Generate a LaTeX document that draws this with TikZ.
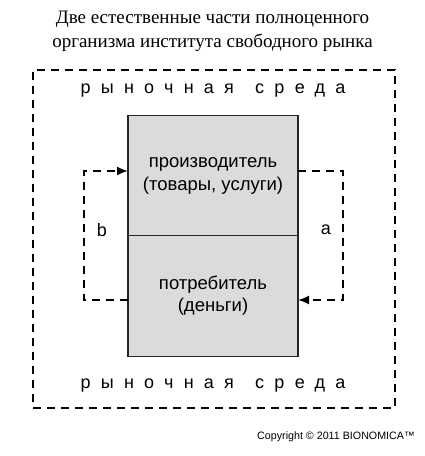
\documentclass[tikz,border=0pt]{standalone}
\usepackage{fontspec}
\setmainfont{Liberation Serif}
\setsansfont{Liberation Sans}
\newfontfamily\spacedfont[LetterSpace=57]{Liberation Sans}
\usetikzlibrary{arrows.meta, positioning}

\begin{document}
\begin{tikzpicture}[
    x=1pt, y=1pt,
    part/.style={rectangle, draw=black!85, fill=black!14, line width=1.3pt, minimum width=170pt, minimum height=120.5pt, align=center, font=\sffamily\fontsize{18.5}{21}\selectfont, outer sep=0pt, inner sep=0pt},
    frame/.style={rectangle, draw=black, dash pattern=on 8pt off 6pt, line width=1.8pt, minimum width=362pt, minimum height=338pt},
    flow/.style={draw=black, dash pattern=on 8pt off 6pt, line width=1.8pt, -{Latex[length=11pt, width=9pt]}},
    envlabel/.style={font=\spacedfont\fontsize{18}{20}\selectfont},
    letter/.style={font=\sffamily\fontsize{18}{20}\selectfont}
]
\useasboundingbox (0,0) rectangle (425,456);

% Title
\node[align=center, font=\fontsize{19}{24}\selectfont] (title) at (212.5,425) {Две естественные части полноценного\\организма института свободного рынка};

% Market environment
\node[frame] (market) at (214,217) {};
\node[envlabel] (envtop) at (213,365) {рыночная\hspace{6pt} среда};
\node[envlabel] (envbottom) at (213,70) {рыночная\hspace{6pt} среда};

% Two parts
\node[part] (producer) at (213,280.5) {производитель\\[2pt](товары, услуги)};
\node[part, below=0pt of producer] (consumer) {потребитель\\[1pt](деньги)};

% Flows
\draw[flow] ([yshift=4.5pt]producer.east) -- ++(45,0) |- ([yshift=-4pt]consumer.east);
\draw[flow] ([yshift=-4pt]consumer.west) -- ++(-44,0) |- ([yshift=4.5pt]producer.west);
\node[letter] (a) at (326,226) {a};
\node[letter] (b) at (102,226) {b};

% Copyright
\node[font=\sffamily\fontsize{10.7}{12}\selectfont] (copy) at (336,19) {Copyright © 2011 BIONOMICA™};

\end{tikzpicture}
\end{document}
